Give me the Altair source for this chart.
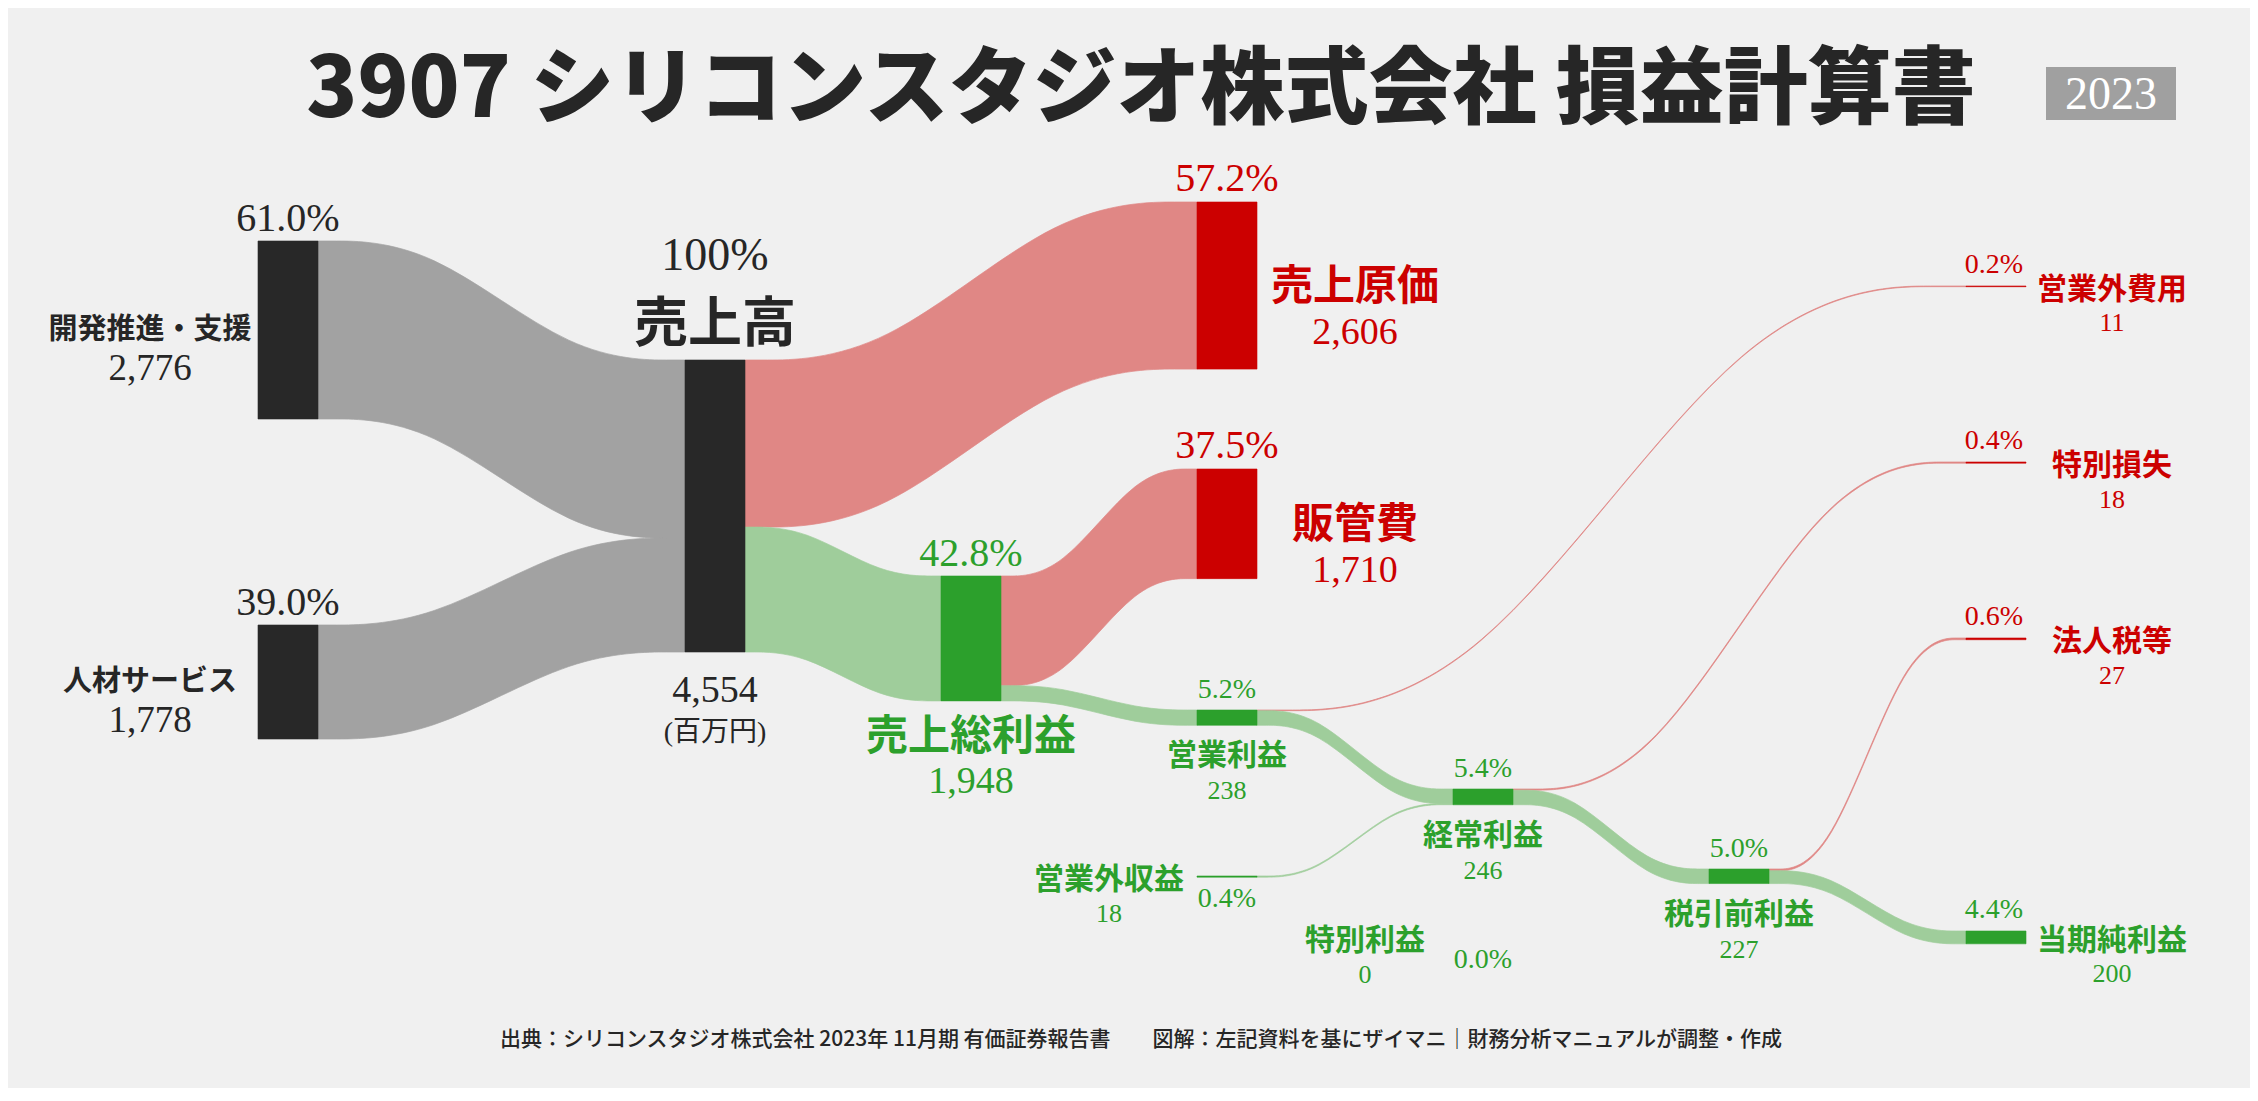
import altair as alt
import pandas as pd

# ---------------- data (millions of yen) ----------------
node_names = ["開発推進・支援", "人材サービス", "売上高", "売上原価", "売上総利益", "販管費",
              "営業利益", "営業外収益", "営業外費用", "経常利益", "特別利益", "特別損失",
              "税引前利益", "法人税等", "当期純利益"]
node_values = [2776, 1778, 4554, 2606, 1948, 1710, 238, 18, 11, 246, 0, 18, 227, 27, 200]
node_kinds = ["segment", "segment", "revenue", "cost", "profit", "cost",
              "profit", "profit", "cost", "profit", "profit", "cost",
              "profit", "cost", "profit"]
pct_labels = ["61.0%", "39.0%", "100%", "57.2%", "42.8%", "37.5%",
              "5.2%", "0.4%", "0.2%", "5.4%", "0.0%", "0.4%",
              "5.0%", "0.6%", "4.4%"]

link_sources = ["開発推進・支援", "人材サービス", "売上高", "売上高", "売上総利益", "売上総利益",
                "営業利益", "営業利益", "営業外収益", "経常利益", "経常利益", "特別利益",
                "税引前利益", "税引前利益"]
link_targets = ["売上高", "売上高", "売上原価", "売上総利益", "販管費", "営業利益",
                "営業外費用", "経常利益", "経常利益", "特別損失", "税引前利益", "税引前利益",
                "法人税等", "当期純利益"]
link_values = [2776, 1778, 2606, 1948, 1710, 238, 11, 227, 18, 18, 227, 0, 27, 200]

title_text = "3907 シリコンスタジオ株式会社 損益計算書"
year_text = "2023"
unit_text = "(百万円)"
footer_text = ("出典：シリコンスタジオ株式会社 2023年 11月期 有価証券報告書　　"
               "図解：左記資料を基にザイマニ｜財務分析マニュアルが調整・作成")

# ---------------- layout / style ----------------
W, H = 2242, 1080
X0, Y0 = 8, 8
COL_LEFT = [258, 685, 941, 1197, 1453, 1709, 1966]
NODE_W = 60
REVENUE_BAR_PX = 292
# node -> (column, top, label style)
NODE_LAYOUT = {
    "開発推進・支援": (0, 241, "left"),
    "人材サービス": (0, 625, "left"),
    "売上高": (1, 360, "revenue"),
    "売上総利益": (2, 576, "big_below"),
    "売上原価": (3, 202, "big_right"),
    "販管費": (3, 469, "big_right"),
    "営業利益": (3, 710, "small_below"),
    "営業外収益": (3, 876, "side_left"),
    "経常利益": (4, 789, "small_below"),
    "特別利益": (4, 937, "side_left"),
    "税引前利益": (5, 869, "small_below"),
    "営業外費用": (6, 286, "right"),
    "特別損失": (6, 462, "right"),
    "法人税等": (6, 638, "right"),
    "当期純利益": (6, 931, "right"),
}
NODE_COLOR = {"segment": "#282828", "revenue": "#282828", "cost": "#cc0000", "profit": "#2ca02c"}
LINK_COLOR = {"segment": "#a2a2a2", "revenue": "#a2a2a2", "cost": "#e08785", "profit": "#9fcd9b"}
TEXT_COLOR = {"segment": "#262626", "revenue": "#262626", "cost": "#cc0000", "profit": "#2ca02c"}
BG = "#f0f0f0"
SERIF = "Liberation Serif, Noto Sans CJK JP"
SANS = "Noto Sans CJK JP"

TITLE_POS = (1141, 117, 84)
YEAR_BOX = (2046, 2176, 67, 120)
YEAR_POS = (2111, 109, 46)
FOOTER_POS = (1141, 1046, 21)

k = REVENUE_BAR_PX / max(node_values)

# ---------------- nodes ----------------
geo = {}
node_rows = []
for name, val, kind in zip(node_names, node_values, node_kinds):
    col, top, style = NODE_LAYOUT[name]
    x0 = COL_LEFT[col]
    x1 = x0 + NODE_W
    h = val * k
    geo[name] = dict(x0=x0, x1=x1, top=top, bot=top + h, cx=(x0 + x1) / 2,
                     mid=top + h / 2, style=style, kind=kind)
    node_rows.append(dict(name=name, value=val, x=x0, x2=x1, y=top, y2=top + h,
                          color=NODE_COLOR[kind]))
nodes_df = pd.DataFrame(node_rows)

# ---------------- links ----------------
out_off = {n: geo[n]["top"] for n in node_names}
in_off = {n: geo[n]["top"] for n in node_names}
link_rows = []
for i, (s, t, v) in enumerate(zip(link_sources, link_targets, link_values)):
    h = v * k
    sy = out_off[s]
    out_off[s] += h
    ty = in_off[t]
    in_off[t] += h
    xa = geo[s]["x1"]
    xb = geo[t]["x0"]
    dx = xb - xa
    for f, yt in [(0.0, sy), (0.3, sy), (0.7, ty), (1.0, ty)]:
        link_rows.append(dict(link=i, value=v, x=xa + f * dx, y=yt, y2=yt + h,
                              color=LINK_COLOR[geo[t]["kind"]]))
links_df = pd.DataFrame(link_rows)

# ---------------- labels ----------------
serif_rows, bold_rows = [], []
for name, val, pct in zip(node_names, node_values, pct_labels):
    g = geo[name]
    c = TEXT_COLOR[g["kind"]]
    cx, top, bot, mid, st = g["cx"], g["top"], g["bot"], g["mid"], g["style"]
    vtxt = f"{val:,}"
    if st == "left":
        serif_rows += [dict(text=pct, x=cx, y=top - 10, size=40, color=c),
                       dict(text=vtxt, x=cx - 138, y=mid + 50, size=37, color=c)]
        bold_rows += [dict(text=name, x=cx - 138, y=mid + 9, size=29, color=c)]
    elif st == "revenue":
        serif_rows += [dict(text=pct, x=cx, y=top - 90, size=46, color=c),
                       dict(text=vtxt, x=cx, y=bot + 50, size=38, color=c),
                       dict(text=unit_text, x=cx, y=bot + 89, size=28, color=c)]
        bold_rows += [dict(text=name, x=cx, y=top - 18, size=54, color=c)]
    elif st == "big_right":
        serif_rows += [dict(text=pct, x=cx, y=top - 11, size=40, color=c),
                       dict(text=vtxt, x=cx + 128, y=mid + 58, size=38, color=c)]
        bold_rows += [dict(text=name, x=cx + 128, y=mid + 14, size=42, color=c)]
    elif st == "big_below":
        serif_rows += [dict(text=pct, x=cx, y=top - 10, size=40, color=c),
                       dict(text=vtxt, x=cx, y=bot + 92, size=38, color=c)]
        bold_rows += [dict(text=name, x=cx, y=bot + 49, size=42, color=c)]
    elif st == "small_below":
        serif_rows += [dict(text=pct, x=cx, y=top - 12, size=28, color=c),
                       dict(text=vtxt, x=cx, y=bot + 74, size=26, color=c)]
        bold_rows += [dict(text=name, x=cx, y=bot + 40, size=30, color=c)]
    elif st == "side_left":
        serif_rows += [dict(text=pct, x=cx, y=top + 31, size=28, color=c),
                       dict(text=vtxt, x=cx - 118, y=top + 46, size=26, color=c)]
        bold_rows += [dict(text=name, x=cx - 118, y=top + 12.5, size=30, color=c)]
    elif st == "right":
        serif_rows += [dict(text=pct, x=cx - 2, y=top - 13, size=28, color=c),
                       dict(text=vtxt, x=cx + 116, y=mid + 45, size=26, color=c)]
        bold_rows += [dict(text=name, x=cx + 116, y=mid + 12.5, size=30, color=c)]
serif_df = pd.DataFrame(serif_rows)
bold_df = pd.DataFrame(bold_rows)

deco_title = pd.DataFrame([dict(text=title_text, x=TITLE_POS[0], y=TITLE_POS[1])])
deco_box = pd.DataFrame([dict(x=YEAR_BOX[0], x2=YEAR_BOX[1], y=YEAR_BOX[2], y2=YEAR_BOX[3])])
deco_year = pd.DataFrame([dict(text=year_text, x=YEAR_POS[0], y=YEAR_POS[1])])
deco_footer = pd.DataFrame([dict(text=footer_text, x=FOOTER_POS[0], y=FOOTER_POS[1])])

# ---------------- chart ----------------
xs = alt.Scale(domain=[X0, X0 + W], nice=False, zero=False)
ys = alt.Scale(domain=[Y0, Y0 + H], nice=False, zero=False, reverse=True)
X = lambda f: alt.X(f, type="quantitative", scale=xs, axis=None)
Y = lambda f: alt.Y(f, type="quantitative", scale=ys, axis=None, stack=None)

links = alt.Chart(links_df).transform_filter("datum.value > 0").mark_area(
    interpolate="basis", strokeWidth=0.7
).encode(
    x=X("x"), y=Y("y"), y2="y2:Q",
    color=alt.Color("color:N", scale=None),
    stroke=alt.Stroke("color:N", scale=None),
    detail="link:N",
)

nodes = alt.Chart(nodes_df).transform_filter("datum.value > 0").mark_rect(strokeWidth=0.6).encode(
    x=X("x"), x2="x2:Q", y=Y("y"), y2="y2:Q",
    color=alt.Color("color:N", scale=None),
    stroke=alt.Stroke("color:N", scale=None),
)

serif_text = alt.Chart(serif_df).mark_text(
    font=SERIF, align="center", baseline="alphabetic"
).encode(
    x=X("x"), y=Y("y"), text="text:N",
    size=alt.Size("size:Q", scale=None),
    color=alt.Color("color:N", scale=None),
)

bold_text = alt.Chart(bold_df).mark_text(
    font=SANS, fontWeight="bold", align="center", baseline="alphabetic"
).encode(
    x=X("x"), y=Y("y"), text="text:N",
    size=alt.Size("size:Q", scale=None),
    color=alt.Color("color:N", scale=None),
)

title = alt.Chart(deco_title).mark_text(
    font=SANS, fontWeight=900, fontSize=TITLE_POS[2], color="#262626",
    align="center", baseline="alphabetic"
).encode(x=X("x"), y=Y("y"), text="text:N")

year_box = alt.Chart(deco_box).mark_rect(color="#a0a0a0").encode(
    x=X("x"), x2="x2:Q", y=Y("y"), y2="y2:Q"
)
year = alt.Chart(deco_year).mark_text(
    font=SERIF, fontSize=YEAR_POS[2], color="#ffffff", align="center", baseline="alphabetic"
).encode(x=X("x"), y=Y("y"), text="text:N")

footer = alt.Chart(deco_footer).mark_text(
    font=SANS, fontWeight=500, fontSize=FOOTER_POS[2], color="#262626",
    align="center", baseline="alphabetic"
).encode(x=X("x"), y=Y("y"), text="text:N")

chart = alt.layer(
    links, nodes, serif_text, bold_text, title, year_box, year, footer
).properties(
    width=W, height=H, padding=0, background=BG,
    autosize=alt.AutoSizeParams(type="none")
).configure_view(stroke=None)

chart.save("out.html", embed_options={"renderer": "svg", "actions": False})
